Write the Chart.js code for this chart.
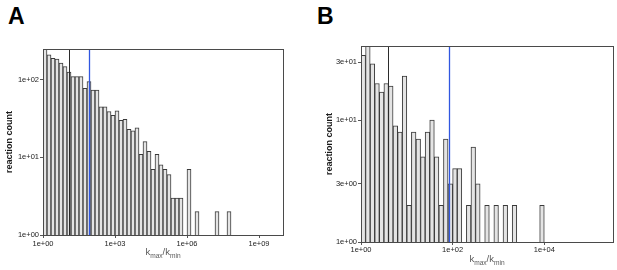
<!DOCTYPE html>
<html>
<head>
<meta charset="utf-8">
<script src="https://cdn.jsdelivr.net/npm/chart.js@4.4.1/dist/chart.umd.min.js"></script>
<style>
    body { margin: 0; background: #fff; width: 617px; height: 270px; position: relative; overflow: hidden; }
    canvas { position: absolute; top: 0; }
    #chartA { left: 0; }
    #chartB { left: 300px; }
    .tag { position: absolute; font: bold 23px 'Liberation Sans', Arial, sans-serif; line-height: 23px; color: #000; }
</style>
</head>
<body>
<div class="tag" style="left:8px;top:5px">A</div>
<div class="tag" style="left:317px;top:5px">B</div>
<canvas id="chartA" width="300" height="270"></canvas>
<canvas id="chartB" width="317" height="270"></canvas>
<script>
// Panel A: histogram of log10(kmax/kmin), bins of 1/6 decade starting at 1e+00
const binWidthA = 1 / 6;
const countsA = [300, 210, 190, 186, 164, 148, 126, 110, 110, 110, 78, 95, 74, 74, 45, 45,
    39, 35, 40, 30, 31, 23, 22, 24, 11, 16, 12, 7, 11, 8, 7, 6, 3, 3, 3, null, 7, null, 2,
    null, null, null, null, 2, null, null, 2];
const xTicksA = [0, 3, 6, 9];
const xLabelsA = ['1e+00', '1e+03', '1e+06', '1e+09'];
const yTicksA = [1, 10, 100];
const yLabelsA = ['1e+00', '1e+01', '1e+02'];
const markersA = [1.07, 1.91];   // log10 positions of the black and blue lines

// Panel B: bins of 0.1 decade starting at 1e+00
const binWidthB = 0.1;
const countsB = [34, 45, 29, 20, 17, 20, 19, 9, 8, 23, 2, 8, 7, 5, 8, 10, 5, 2, 7, 3,
    4, 4, null, 2, 6, 3, null, 2, null, 2, null, 2, null, 2, null, null, null, null, null, 2];
const xTicksB = [0, 2, 4];
const xLabelsB = ['1e+00', '1e+02', '1e+04'];
const yTicksB = [1, 3, 10, 30];
const yLabelsB = ['1e+00', '3e+00', '1e+01', '3e+01'];
const markersB = [0.58, 1.91];

const markerColors = ['#2b2b2b', '#3157e0'];
const FONT = "'Liberation Sans', Arial, sans-serif";

// Frame, marker lines and axis titles
const decorPlugin = {
    id: 'decor',
    afterDatasetsDraw(chart, args, opts) {
        const { ctx, chartArea: a, scales } = chart;
        ctx.save();
        opts.markers.forEach((m, i) => {
            const x = Math.round(scales.x.getPixelForValue(m)) + 0.5;
            ctx.strokeStyle = markerColors[i];
            ctx.lineWidth = i === 1 ? 1.3 : 1;
            ctx.beginPath();
            ctx.moveTo(x, a.top);
            ctx.lineTo(x, a.bottom);
            ctx.stroke();
        });
        ctx.strokeStyle = '#4a4a4a';
        ctx.lineWidth = 1;
        ctx.strokeRect(Math.round(a.left) + 0.5, Math.round(a.top) + 0.5,
            Math.round(a.right - a.left), Math.round(a.bottom - a.top));
        ctx.restore();
    },
    afterDraw(chart, args, opts) {
        const { ctx, chartArea: a } = chart;
        ctx.save();
        // y title
        ctx.fillStyle = '#1a1a1a';
        ctx.font = 'bold 9px ' + FONT;
        ctx.textAlign = 'center';
        ctx.textBaseline = 'middle';
        ctx.translate(opts.yTitleX, (a.top + a.bottom) / 2);
        ctx.rotate(-Math.PI / 2);
        ctx.fillText('reaction count', 0, 0);
        ctx.restore();

        // x title with subscripts: k_max/k_min
        ctx.save();
        ctx.fillStyle = '#5a5a5a';
        ctx.textBaseline = 'alphabetic';
        ctx.textAlign = 'left';
        const big = '9.5px ' + FONT, small = '6.6px ' + FONT;
        const parts = [['k', big, 0], ['max', small, 2.5], ['/', big, 0], ['k', big, 0], ['min', small, 2.5]];
        let total = 0;
        parts.forEach(p => { ctx.font = p[1]; total += ctx.measureText(p[0]).width; });
        let x = (a.left + a.right) / 2 - total / 2;
        parts.forEach(p => {
            ctx.font = p[1];
            ctx.fillText(p[0], x, opts.xTitleY + p[2]);
            x += ctx.measureText(p[0]).width;
        });
        ctx.restore();
    }
};

function histogram(canvasId, p) {
    const data = p.counts.map((c, i) => ({ x: (i + 0.5) * p.binWidth, y: c }));
    const tickFont = { family: FONT, size: 7.5 };
    new Chart(document.getElementById(canvasId), {
        type: 'bar',
        data: {
            datasets: [{
                data: data,
                backgroundColor: '#e4e4e4',
                borderColor: '#3a3a3a',
                borderWidth: 1,
                borderSkipped: 'start',
                barPercentage: 1,
                categoryPercentage: 1
            }]
        },
        options: {
            responsive: false,
            animation: false,
            layout: { padding: { left: 0, top: p.area.top, right: p.width - p.area.right, bottom: 0 } },
            plugins: {
                legend: { display: false },
                tooltip: { enabled: false },
                decor: { markers: p.markers, yTitleX: p.yTitleX, xTitleY: p.xTitleY }
            },
            scales: {
                x: {
                    type: 'linear',
                    offset: false,
                    min: 0,
                    max: p.xMax,
                    afterBuildTicks: s => { s.ticks = p.xTicks.map(v => ({ value: v })); },
                    afterFit: s => { s.height = 270 - p.area.bottom; },
                    grid: { offset: false, drawOnChartArea: false, drawTicks: true, tickLength: 3, color: '#555' },
                    border: { display: false },
                    ticks: {
                        autoSkip: false, maxRotation: 0, padding: p.xPad, color: '#222', font: tickFont,
                        callback: v => p.xLabels[p.xTicks.indexOf(v)]
                    }
                },
                y: {
                    type: 'logarithmic',
                    min: 1,
                    max: p.yMax,
                    afterBuildTicks: s => { s.ticks = p.yTicks.map(v => ({ value: v })); },
                    afterFit: s => { s.width = p.area.left; },
                    grid: { drawOnChartArea: false, drawTicks: true, tickLength: 3, color: '#555' },
                    border: { display: false },
                    ticks: {
                        autoSkip: false, padding: 1, color: '#222', font: tickFont,
                        callback: v => p.yLabels[p.yTicks.indexOf(v)]
                    }
                }
            }
        },
        plugins: [decorPlugin]
    });
}

document.addEventListener('DOMContentLoaded', function() {
    histogram('chartA', {
        counts: countsA, binWidth: binWidthA, xMax: 10, yMax: 250,
        xTicks: xTicksA, xLabels: xLabelsA, yTicks: yTicksA, yLabels: yLabelsA,
        markers: markersA, width: 300, area: { left: 43, right: 283, top: 49, bottom: 235 },
        xPad: 1, yTitleX: 10, xTitleY: 255
    });
    histogram('chartB', {
        counts: countsB, binWidth: binWidthB, xMax: 5.5, yMax: 40.6,
        xTicks: xTicksB, xLabels: xLabelsB, yTicks: yTicksB, yLabels: yLabelsB,
        markers: markersB, width: 317, area: { left: 61, right: 313, top: 46, bottom: 242 },
        xPad: 0, yTitleX: 30, xTitleY: 262
    });
});
</script>
</body>
</html>
